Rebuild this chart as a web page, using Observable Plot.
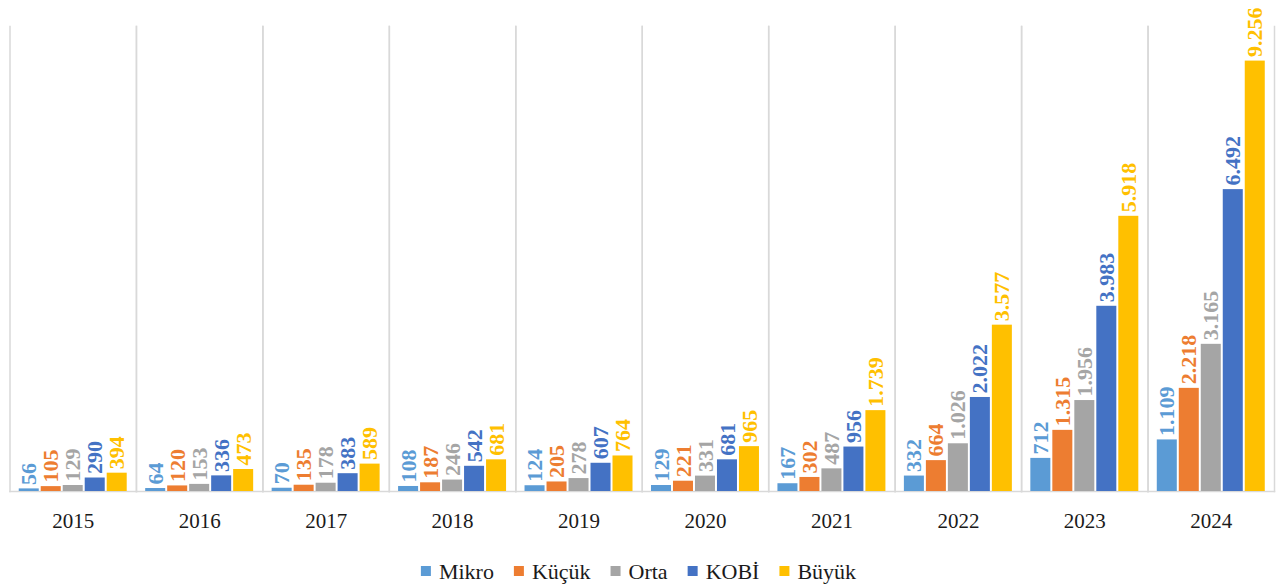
<!DOCTYPE html>
<html><head><meta charset="utf-8">
<script src="https://cdn.jsdelivr.net/npm/d3@7"></script>
<script src="https://cdn.jsdelivr.net/npm/@observablehq/plot@0.6"></script>
<style>
body{margin:0;background:#fff;}
#legend svg{display:block;}
</style></head>
<body><div id="chart"></div><div id="legend"></div>
<script>
const years = ["2015","2016","2017","2018","2019","2020","2021","2022","2023","2024"];
const series = ["Mikro","Küçük","Orta","KOBİ","Büyük"];
const colors = ["#5B9BD5","#ED7D31","#A5A5A5","#4472C4","#FFC000"];
const mikro = [56,64,70,108,124,129,167,332,712,1109];
const kucuk = [105,120,135,187,205,221,302,664,1315,2218];
const orta  = [129,153,178,246,278,331,487,1026,1956,3165];
const kobi  = [290,336,383,542,607,681,956,2022,3983,6492];
const buyuk = [394,473,589,681,764,965,1739,3577,5918,9256];

const cols = [mikro,kucuk,orta,kobi,buyuk];
const data = years.flatMap((yr,i)=>series.map((s,j)=>({year:yr, series:s, value:cols[j][i]})));
const loc = d3.formatLocale({decimal:",", thousands:".", grouping:[3], currency:["",""]});
const fmt = loc.format(",d");
const serif = "'Liberation Serif', 'Times New Roman', serif";

const grid = {stroke:"#d9d9d9", strokeWidth:1.5};
const chart = Plot.plot({
  width:1277, height:548,
  marginLeft:9.5, marginRight:3, marginTop:26, marginBottom:57,
  style:{fontFamily:serif, fontSize:"21px", color:"#1a1a1a", background:"#fff"},
  fx:{domain:years, padding:0, label:null, round:false},
  x:{domain:series, paddingInner:0.09, paddingOuter:0.42, axis:null, round:false},
  y:{domain:[0,10000], axis:null},
  color:{domain:series, range:colors},
  marks:[
    Plot.frame({anchor:"left", ...grid}),
    Plot.frame({anchor:"right", ...grid}),
    Plot.frame({anchor:"bottom", ...grid}),
    Plot.barY(data,{fx:"year", x:"series", y:"value", fill:"series"}),
    Plot.text(data,{fx:"year", x:"series", y:"value", text:d=>fmt(d.value), fill:"series",
      rotate:-90, textAnchor:"start", dy:-4, fontSize:22, fontWeight:"bold", fontFamily:serif}),
    Plot.axisFx({anchor:"bottom", tickSize:0, tickPadding:22, label:null, fontSize:21, fontFamily:serif})
  ]
});
document.getElementById("chart").appendChild(chart);

// legend as a separate SVG below the chart
const W = 1277, H = 39;
const svg = d3.select("#legend").append("svg").attr("width", W).attr("height", H)
  .attr("font-family", serif).attr("font-size", 22);
const items = svg.selectAll("g").data(series).join("g");
items.append("rect").attr("width", 10).attr("height", 10).attr("y", 18).attr("fill", (d,i)=>colors[i]);
items.append("text").attr("x", 18).attr("y", 23).attr("dy", "0.35em").attr("fill", "#1a1a1a").text(d=>d);
const widths = items.nodes().map(n=>n.querySelector("text").getComputedTextLength() + 18);
const gap = 20;
const total = d3.sum(widths) + gap*(widths.length-1);
let x0 = (W - total)/2;
items.attr("transform", (d,i)=>{ const t = `translate(${x0},0)`; x0 += widths[i] + gap; return t; });
</script></body></html>
